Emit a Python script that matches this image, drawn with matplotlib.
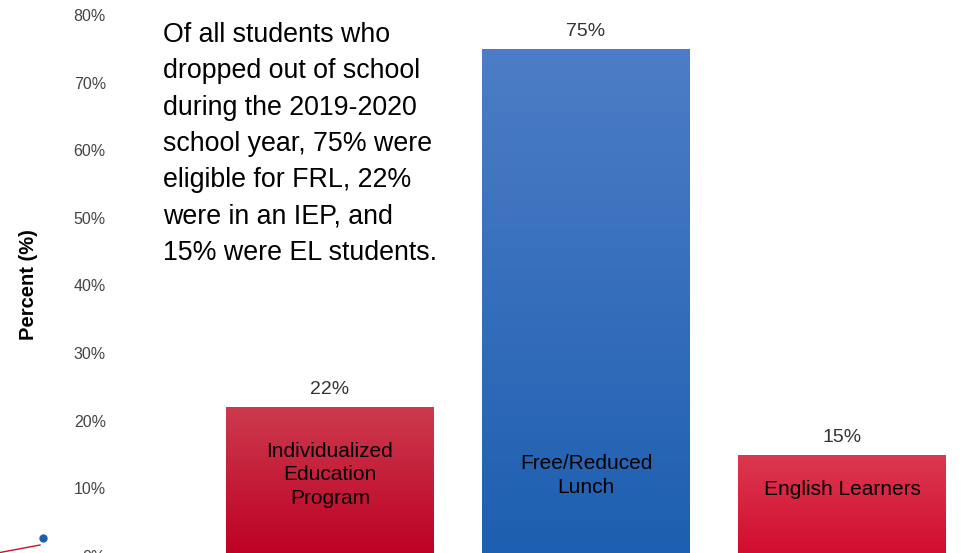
import matplotlib as mpl
import matplotlib.pyplot as plt
import numpy as np
from matplotlib.colors import LinearSegmentedColormap

mpl.use('Agg')
plt.rcParams['font.family'] = ['Liberation Sans', 'DejaVu Sans']

# data
groups = ['Individualized\nEducation\nProgram', 'Free/Reduced\nLunch', 'English Learners']
percents = [22, 75, 15]
yticks = [0, 10, 20, 30, 40, 50, 60, 70, 80]
note = ('Of all students who\ndropped out of school\nduring the 2019-2020\n'
        'school year, 75% were\neligible for FRL, 22%\nwere in an IEP, and\n'
        '15% were EL students.')

# top colour, bottom colour of each bar
grads = [('#cc3a4e', '#bd0024'), ('#4d7dc6', '#1d5fb0'), ('#dc3850', '#d10c2f')]

W, H = 972, 553
fig = plt.figure(figsize=(W / 100, H / 100), dpi=100)
# axes: x from 110px to 970px, 0% sits 3px below the bottom edge
ax = fig.add_axes([110 / W, -3 / H, 860 / W, 556 / H])
ax.set_ylim(0, 82.2)
ax.set_xlim(-0.859, 2.5)

xs = np.arange(len(percents))
bars = ax.bar(xs, percents, width=0.81, color='none', edgecolor='none', zorder=2)

for b, (c_top, c_bot) in zip(bars, grads):
    cmap = LinearSegmentedColormap.from_list('g', [c_bot, c_top])
    x0, w, h = b.get_x(), b.get_width(), b.get_height()
    grad = np.linspace(0, 1, 256).reshape(-1, 1)
    im = ax.imshow(grad, cmap=cmap, origin='lower', aspect='auto',
                   extent=(x0, x0 + w, 0, h), zorder=2)
    im.set_clip_path(b)

for x, v, lab in zip(xs, percents, groups):
    ax.text(x, v + 1.3, '%d%%' % v, ha='center', va='bottom', fontsize=14, color='#333333')
    nlines = lab.count('\n') + 1
    ytxt = {3: 12.0, 2: 11.9, 1: 9.9}[nlines]
    ax.text(x, ytxt, lab, ha='center', va='center', fontsize=15, color='black',
            linespacing=1.3, zorder=3)

ax.set_yticks(yticks)
ax.set_yticklabels(['%d%%' % t for t in yticks], fontsize=11.5, color='#444444')
ax.tick_params(axis='y', length=0, pad=3)
ax.set_xticks([])
for s in ax.spines.values():
    s.set_visible(False)

fig.text(29 / W, 1 - 285 / H, 'Percent (%)', rotation=90, ha='center', va='center',
         fontsize=14.5, fontweight='bold', color='black')

fig.text(163 / W, 1 - 22 / H, note, ha='left', va='top', fontsize=19.3,
         color='black', linespacing=1.515)

# logo fragment in the bottom-left corner
fig.add_artist(plt.Line2D([0, 40 / W], [0.5 / H, 8 / H], color='#c8102e', lw=1))
fig.add_artist(plt.Line2D([43 / W], [1 - 538 / H], marker='o', ms=5, color='#1f5fb0', lw=0))

fig.savefig('out.png', dpi=100)
